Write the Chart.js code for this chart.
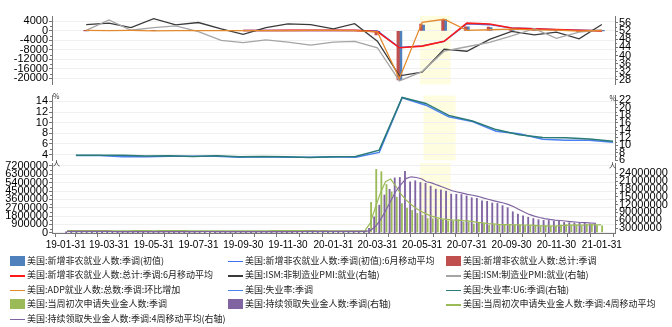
<!DOCTYPE html>
<html>
<head>
<meta charset="utf-8">
<script src="https://cdn.jsdelivr.net/npm/chart.js@4/dist/chart.umd.min.js"></script>
<style>
  body { margin: 0; background: #fff; }
  #wrap { position: relative; width: 672px; height: 327px; overflow: hidden; }
  #wrap canvas { position: absolute; left: 0; }
  .lg { position: absolute; font: 9px "Noto Sans CJK SC", sans-serif; color: #222; white-space: nowrap; line-height: 12px; }
  .lg i { position: absolute; left: 0; }
  .lg span { position: absolute; left: 17px; top: 0; }
</style>
</head>
<body>
<div id="wrap">
  <canvas id="c1" width="672" height="92" style="top:0"></canvas>
  <canvas id="c2" width="672" height="80" style="top:88px"></canvas>
  <canvas id="c3" width="672" height="100" style="top:155px"></canvas>
</div>
<script>
// month-end dates, also the x ticks (every other one is labelled)
let monthEnds = ['2019-01-31','2019-02-28','2019-03-31','2019-04-30','2019-05-31','2019-06-30','2019-07-31','2019-08-31',
  '2019-09-30','2019-10-31','2019-11-30','2019-12-31','2020-01-31','2020-02-29','2020-03-31','2020-04-30','2020-05-31',
  '2020-06-30','2020-07-31','2020-08-31','2020-09-30','2020-10-31','2020-11-30','2020-12-31','2021-01-31'];
let months = monthEnds.slice(1);
let bandRange = ['2020-05-28', '2020-07-09'];

// top panel (thousand persons / index)
let nfpInitial = [20,196,263,75,224,164,130,136,128,266,145,225,273,-701,-20500,2509,4800,1763,1371,661,638,245,-140,49];
let nfpInitialMA = [null,null,null,null,null,null,null,143,131,177,180,212,214,-68,-6976,-6300,-4400,3024,2645,1265,890,515,248,51];
let nfpTotal = [1,147,210,85,182,194,207,208,185,261,184,214,251,-1683,-20679,2833,4846,1726,1583,716,680,264,-227,49];
let nfpTotalMA = [null,null,null,null,null,null,null,203,200,218,210,220,216,-300,-7100,-6400,-4400,3300,2900,1200,900,550,250,30];
let ismNonMfgEmp = [55.2,55.9,53.7,58.1,55.0,56.2,53.1,50.4,53.7,55.5,55.2,53.1,55.6,47.0,30.0,31.8,43.1,42.1,47.9,51.8,50.1,51.5,48.2,55.2];
let ismMfgEmp = [52.3,57.5,52.4,53.7,54.5,51.7,47.4,46.3,47.7,46.6,45.1,46.6,46.9,43.8,27.5,32.1,42.1,44.3,46.4,49.6,53.2,48.4,51.5,52.6];
let adpChange = [197,151,205,56,112,142,157,93,121,124,199,209,147,-400,-20000,3600,4900,212,481,753,404,304,-78,174];

// middle panel (%)
let unemployment = [3.8,3.8,3.6,3.6,3.7,3.7,3.7,3.5,3.6,3.5,3.5,3.6,3.5,4.4,14.7,13.3,11.1,10.2,8.4,7.9,6.9,6.7,6.7,6.3];
let unemploymentU6 = [7.3,7.3,7.3,7.1,7.2,7.0,7.2,6.9,7.0,6.9,6.7,6.9,7.0,8.7,22.8,21.2,18.0,16.5,14.2,12.8,12.1,12.0,11.7,11.1];

// bottom panel, weekly from 2019-02-02 (thousand persons)
let weekStart = '2019-02-02', weekCount = 105;
let initialClaims = [234,239,216,225,223,229,221,211,202,196,192,230,230,228,212,211,215,218,222,216,227,221,209,216,206,215,209,220,209,215,217,204,208,213,219,210,214,213,218,211,225,227,213,203,252,234,222,220,
  212,207,223,217,203,206,211,219,217,211,282,3307,6867,6615,5237,4442,3867,3176,2687,2446,2123,1897,1566,1540,1482,1413,1310,1307,1422,1187,1191,971,1104,1011,833,893,866,873,849,845,842,791,757,738,711,748,716,716,862,892,806,790,
  787,926,914,812,779];
let initialClaimsMA = [225,232,229,229,226,223,225,221,216,208,200,205,212,220,225,220,217,214,217,218,221,222,218,218,213,212,212,213,213,213,215,211,211,211,211,213,214,214,214,214,217,220,219,217,224,228,228,232,
  222,215,216,215,213,212,209,210,213,215,232,1004,2667,4268,5507,5790,5040,4181,3543,3044,2608,2288,2008,1782,1621,1500,1436,1378,1363,1307,1277,1193,1113,1069,980,960,901,866,870,858,852,832,809,782,749,739,728,723,761,797,819,838,
  820,833,855,861,848];
let continuingClaims = [1725,1772,1805,1756,1776,1750,1756,1717,1714,1655,1671,1676,1688,1660,1676,1657,1682,1695,1688,1686,1686,1699,1676,1686,1699,1684,1726,1674,1698,1662,1670,1661,1650,1688,1684,1679,1682,1690,1692,1689,1640,1697,1693,1667,1722,1725,1728,1803,
  1764,1731,1703,1751,1698,1726,1724,1733,1701,1702,1784,3059,7446,11914,15819,18011,22377,22548,24912,20838,21268,20606,20289,19231,18062,17760,17304,16151,16107,15991,15480,14759,14535,13544,13385,12747,12580,11767,10979,9397,8465,7823,7285,6801,6370,6089,6071,5781,5757,5322,5198,5072,
  5054,4974,4771,4592,null];
let continuingClaimsMA = [1740,1750,1760,1765,1777,1772,1760,1745,1734,1711,1690,1679,1673,1674,1675,1670,1669,1678,1681,1688,1689,1690,1687,1687,1690,1686,1699,1696,1696,1690,1676,1674,1661,1667,1671,1678,1683,1684,1686,1688,1678,1680,1680,1674,1695,1702,1711,1745,
  1755,1757,1750,1737,1721,1720,1725,1720,1721,1715,1730,2062,3498,6051,9560,13298,17030,19689,21962,22669,22391,21906,20750,20349,19547,18836,18089,17319,16831,16388,15932,15584,15191,14580,14056,13553,13064,12620,12018,11181,10152,9166,8243,7594,7070,6636,6333,6078,5925,5733,5515,5337,
  5162,5075,4968,4848,null];

// axis ticks
let topLeftTicks = [4000,0,-4000,-8000,-12000,-16000,-20000];
let topRightTicks = [56,52,48,44,40,36,32,28];
let midLeftTicks = [14,12,10,8,6,4];
let midRightTicks = [22,20,18,16,14,12,10,8,6];
let botLeftTicks = [0,900000,1800000,2700000,3600000,4500000,5400000,6300000,7200000];
let botRightTicks = [3000000,6000000,9000000,12000000,15000000,18000000,21000000,24000000];

const DAY = 86400000;
const toMs = s => Date.parse(s + 'T00:00:00Z');
const xMin = toMs('2019-01-31') - 3.3 * DAY, xMax = toMs('2019-01-31') + 733.6 * DAY;
const tickFont = { family: 'Liberation Sans, Arial, sans-serif', size: 11 };

let weeks = [];
for (let i = 0; i < weekCount; i++) weeks.push(toMs(weekStart) + i * 7 * DAY);

const monthly = arr => arr.map((v, i) => ({ x: toMs(months[i]), y: v }));
const weekly = (arr, k) => arr.map((v, i) => ({ x: weeks[i], y: v == null ? null : v * k }));

const overlay = {
  id: 'overlay',
  beforeDraw(chart) {
    const { ctx, chartArea, scales } = chart;
    const x0 = scales.x.getPixelForValue(toMs(bandRange[0])), x1 = scales.x.getPixelForValue(toMs(bandRange[1]));
    ctx.save();
    ctx.fillStyle = '#FFFDE0';
    ctx.fillRect(x0, chartArea.top, x1 - x0, chartArea.bottom - chartArea.top);
    ctx.restore();
  },
  afterDraw(chart, args, opts) {
    const { ctx } = chart;
    ctx.save();
    ctx.strokeStyle = '#777';
    ctx.lineWidth = 1;
    ['yl', 'yr'].forEach(id => {
      const s = chart.scales[id];
      const t = s.ticks;
      for (let i = 0; i < t.length - 1; i++) {
        const y = Math.round(s.getPixelForValue((t[i].value + t[i + 1].value) / 2)) + 0.5;
        const xe = id === 'yl' ? s.right : s.left;
        ctx.beginPath();
        ctx.moveTo(xe, y);
        ctx.lineTo(id === 'yl' ? xe - 2 : xe + 2, y);
        ctx.stroke();
      }
    });
    if (opts.unit) {
      ctx.fillStyle = '#333';
      ctx.font = '7px "Noto Sans CJK SC", sans-serif';
      ctx.textBaseline = 'bottom';
      ctx.textAlign = 'left';
      ctx.fillText(opts.unit, chart.scales.yl.right + 1, chart.chartArea.top + 4);
      ctx.textAlign = 'right';
      ctx.fillText(opts.unit, chart.scales.yr.left + 1, chart.chartArea.top + 6);
    }
    ctx.restore();
  }
};

function yAxis(pos, min, max, ticks, width) {
  return {
    position: pos, min: min, max: max,
    afterBuildTicks: s => { s.ticks = ticks.map(v => ({ value: v })); },
    afterFit: s => { s.width = width; },
    ticks: { font: tickFont, color: '#000', padding: 1, autoSkip: false, callback: v => String(v) },
    grid: { drawOnChartArea: pos === 'left', color: '#F0F0F0', tickColor: '#777', tickLength: 3 },
    border: { color: '#777' }
  };
}

function xAxis(show) {
  return {
    type: 'linear', min: xMin, max: xMax, display: show,
    afterBuildTicks: s => { s.ticks = monthEnds.map(d => ({ value: toMs(d) })); },
    afterFit: s => { s.height = show ? 22 : 0; },
    ticks: {
      font: { family: 'Liberation Sans, Arial, sans-serif', size: 10 }, color: '#000', autoSkip: false, maxRotation: 0, padding: 2,
      callback: (v, i) => i % 2 === 0 ? monthEnds[i].slice(2) : ''
    },
    grid: { drawOnChartArea: false, tickLength: 4, tickColor: '#777' },
    border: { color: '#777' }
  };
}

function options(pad, scales, unit) {
  return {
    responsive: false, animation: false, maintainAspectRatio: false,
    layout: { padding: pad },
    plugins: { legend: { display: false }, tooltip: { enabled: false }, overlay: { unit: unit } },
    elements: { point: { radius: 0 }, line: { tension: 0 } },
    scales: scales
  };
}

const line = (label, data, color, axis, w, order) => ({ type: 'line', label, data, borderColor: color, backgroundColor: color, borderWidth: w, yAxisID: axis, order, spanGaps: false });
const bar = (label, data, color, axis, order, thick) => Object.assign({ type: 'bar', label, data, backgroundColor: color, borderWidth: 0, yAxisID: axis, order }, thick ? { barThickness: thick } : {});

let c1 = new Chart('c1', {
  data: { datasets: [
    bar('美国:新增非农就业人数:季调(初值)', monthly(nfpInitial), '#4F81BD', 'yl', 10, 2.5),
    line('美国:新增非农就业人数:季调(初值):6月移动平均', monthly(nfpInitialMA), '#3F6FF2', 'yl', 1.5, 6),
    bar('美国:新增非农就业人数:总计:季调', monthly(nfpTotal), '#C0504D', 'yl', 9, 2.5),
    line('美国:新增非农就业人数:总计:季调:6月移动平均', monthly(nfpTotalMA), '#FF1A1A', 'yl', 1.6, 5),
    line('美国:ISM:非制造业PMI:就业(右轴)', monthly(ismNonMfgEmp), '#3A3A3A', 'yr', 1.3, 4),
    line('美国:ISM:制造业PMI:就业(右轴)', monthly(ismMfgEmp), '#A5A5A5', 'yr', 1.3, 3),
    line('美国:ADP就业人数:总数:季调:环比增加', monthly(adpChange), '#E48A2E', 'yl', 1.3, 2)
  ] },
  options: options({ top: 16, bottom: 4, left: 0, right: 0 }, {
    x: xAxis(false),
    yl: yAxis('left', -22520, 6280, topLeftTicks, 52),
    yr: yAxis('right', 25.8, 59.4, topRightTicks, 57)
  }, null),
  plugins: [overlay]
});

let c2 = new Chart('c2', {
  data: { datasets: [
    line('美国:失业率:季调', monthly(unemployment), '#4A80F0', 'yl', 1.5, 2),
    line('美国:失业率:U6:季调(右轴)', monthly(unemploymentU6), '#2B7A78', 'yr', 1.5, 1)
  ] },
  options: options({ top: 5, bottom: 5, left: 0, right: 0 }, {
    x: xAxis(false),
    yl: yAxis('left', 2.9, 15.1, midLeftTicks, 52),
    yr: yAxis('right', 5.95, 23.3, midRightTicks, 57)
  }, '%'),
  plugins: [overlay]
});

let c3 = new Chart('c3', {
  data: { datasets: [
    bar('美国:当周初次申请失业金人数:季调', weekly(initialClaims, 1000), '#9BBB59', 'yl', 10),
    bar('美国:持续领取失业金人数:季调(右轴)', weekly(continuingClaims, 1000), '#8064A2', 'yr', 9),
    line('美国:当周初次申请失业金人数:季调:4周移动平均', weekly(initialClaimsMA, 1000), '#9BBB59', 'yl', 1.2, 2),
    line('美国:持续领取失业金人数:季调:4周移动平均(右轴)', weekly(continuingClaimsMA, 1000), '#8064A2', 'yr', 1.2, 1)
  ] },
  options: options({ top: 8, bottom: 0, left: 0, right: 0 }, {
    x: xAxis(true),
    yl: yAxis('left', -30000, 7520000, botLeftTicks, 52),
    yr: yAxis('right', 1130000, 27950000, botRightTicks, 57)
  }, '人'),
  plugins: [overlay]
});

// legend in three columns, built from the datasets
let colX = [10, 228, 446], rowY = [254.5, 269, 283.5, 298, 312.5];
let wrap = document.getElementById('wrap');
let n = 0;
[c1, c2, c3].forEach(c => c.data.datasets.forEach(ds => {
  let d = document.createElement('div');
  d.className = 'lg';
  d.style.left = colX[n % 3] + 'px';
  d.style.top = rowY[Math.floor(n / 3)] + 'px';
  let mark = ds.type === 'bar'
    ? `<i style="top:1px;width:15px;height:10px;background:${ds.backgroundColor}"></i>`
    : `<i style="top:6px;width:15px;height:1.5px;background:${ds.borderColor}"></i>`;
  d.innerHTML = mark + `<span>${ds.label}</span>`;
  wrap.appendChild(d);
  n++;
}));
</script>
</body>
</html>
